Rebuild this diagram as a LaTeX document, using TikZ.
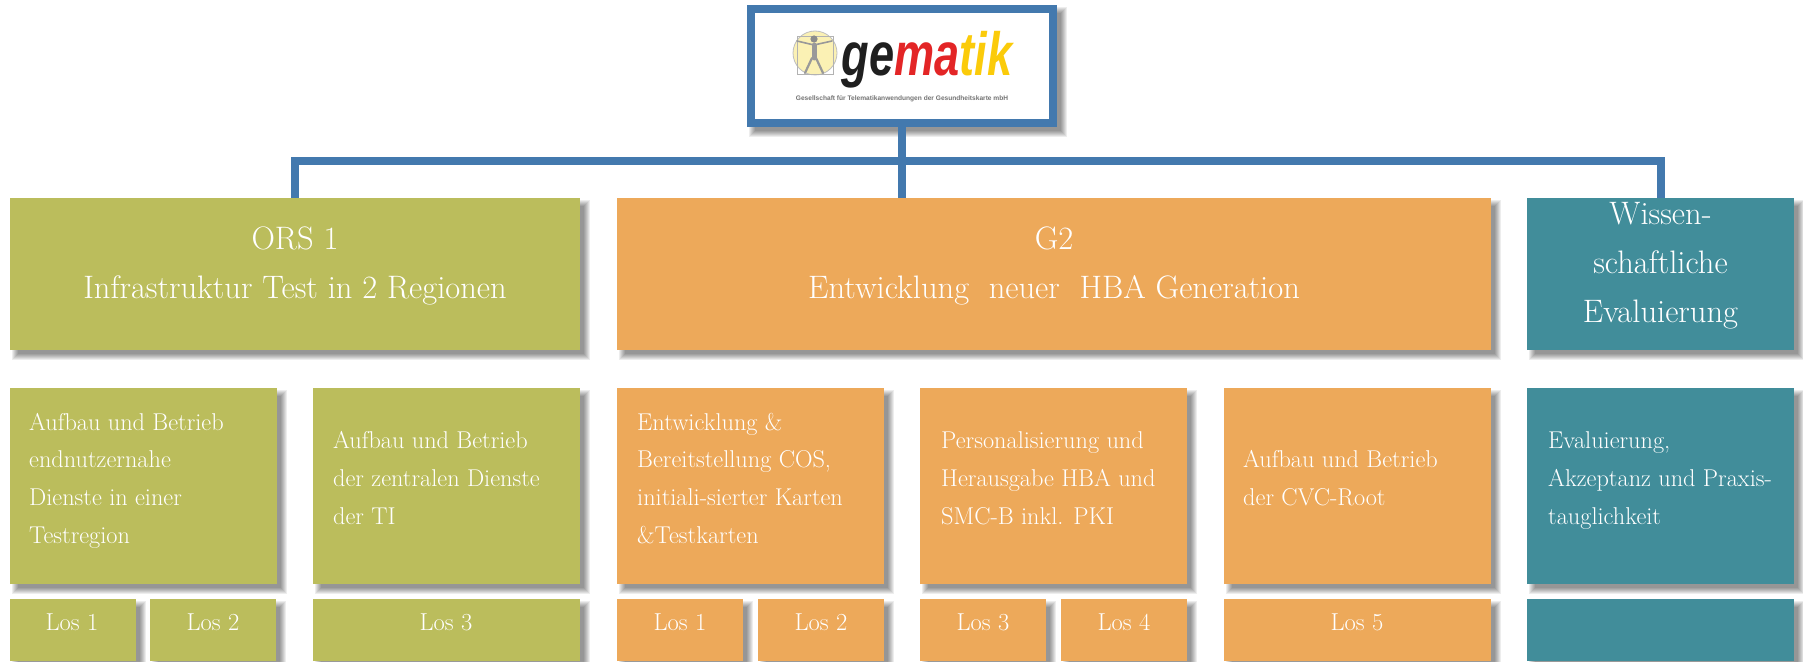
\documentclass[tikz,border=0pt]{standalone}
\usepackage{fontspec}
\usepackage{graphicx}
\newfontfamily\logofont{Liberation Sans}
\definecolor{olivebox}{HTML}{BBBD5C}
\definecolor{orangebox}{HTML}{EDA95A}
\definecolor{tealbox}{HTML}{418D9A}
\definecolor{bluebar}{HTML}{4379AE}
\definecolor{logored}{HTML}{E32526}
\definecolor{logoyellow}{HTML}{FBCB0A}
\definecolor{logopale}{HTML}{FBF1B4}
\newcommand{\st}{\rule[-6pt]{0pt}{18pt}}
\tikzset{
  colorbox/.style={rectangle,inner sep=0pt,outer sep=0pt,draw=none},
  bodytext/.style={text=white,inner sep=0pt,anchor=west,align=left,font=\fontsize{24.3}{37.7}\selectfont},
  lostext/.style={text=white,inner sep=0pt,anchor=base,font=\fontsize{24.5}{27}\selectfont},
  headtext/.style={text=white,inner sep=0pt,align=center,font=\fontsize{32.5}{49}\selectfont},
  connector/.style={draw=bluebar,line width=8pt,line join=miter},
}
% x1, y1, x2, y2
\newcommand{\softshadow}[4]{%
  \foreach \s in {0,...,6}{%
    \fill[black,opacity=.07] (#1+2+\s,#2+2+\s) rectangle (#3+10-\s,#4+10-\s);}%
}
% name, x1, y1, x2, y2, colour
\newcommand{\mybox}[6]{%
  \pgfmathsetmacro{\bw}{#4-#2}\pgfmathsetmacro{\bh}{#5-#3}%
  \pgfmathsetmacro{\bcx}{(#2+#4)/2}\pgfmathsetmacro{\bcy}{(#3+#5)/2}%
  \softshadow{#2}{#3}{#4}{#5}%
  \node[colorbox,fill=#6,minimum width=\bw pt,minimum height=\bh pt] (#1) at (\bcx,\bcy) {};%
}
\begin{document}
\begin{tikzpicture}[x=1pt,y=-1pt]
\useasboundingbox (0,0) rectangle (1803,661);
\fill[white] (0,0) rectangle (1803,661);

% logo box
\softshadow{747}{5}{1057}{127}
\node[rectangle,draw=bluebar,fill=white,line width=8pt,inner sep=0pt,outer sep=0pt,
      minimum width=302pt,minimum height=114pt] (logo) at (902,66) {};

% logo mark
\fill[logopale,draw=black!25,line width=.8pt] (815,53) circle (22);
\draw[black!30,line width=.8pt] (797,36) rectangle (833,74);
\fill[black!45] (814,39) circle (3.6);
\draw[black!40,line width=1.6pt,line cap=round] (797,41) -- (814,45) -- (832,41);
\draw[black!40,line width=5pt,line cap=round] (814,45) -- (814,58);
\draw[black!40,line width=2.2pt,line cap=round] (812,58) -- (805,73) (816,58) -- (823,73);

\node[inner sep=0pt,anchor=base] (logoword) at (927,75)
  {\scalebox{.74}[1]{\logofont\bfseries\itshape\fontsize{61}{61}\selectfont
   \textcolor{black!88}{ge}\textcolor{logored}{ma}\textcolor{logoyellow}{tik}}};
\node[inner sep=0pt,anchor=center,text=black!55] (logosub) at (902,99)
  {\logofont\bfseries\fontsize{6.6}{8}\selectfont Gesellschaft für Telematikanwendungen der Gesundheitskarte mbH};

% header boxes
\mybox{ors}{10}{198}{580}{350}{olivebox}
\mybox{gzwei}{617}{198}{1491}{350}{orangebox}
\mybox{wiss}{1527}{198}{1794}{350}{tealbox}

% connectors
\coordinate (bus) at (902,161);
\draw[connector] (logo.south) -- (logo.south |- gzwei.north);
\draw[connector] (ors.north) |- (bus) -| (wiss.north);

\node[headtext] (orst) at (295,266) {\st ORS 1\\ Infrastruktur Test in 2 Regionen\st};
\node[headtext] (gzweit) at (1054,266) {\st G2\\ Entwicklung\ \ neuer\ \ HBA Generation\st};
\node[headtext] (wisst) at (1660.5,266) {\st Wissen-\\ schaftliche\\ Evaluierung\st};

% detail boxes
\mybox{da}{10}{388}{277}{584}{olivebox}
\mybox{db}{313}{388}{580}{584}{olivebox}
\mybox{dc}{617}{388}{884}{584}{orangebox}
\mybox{dd}{920}{388}{1187}{584}{orangebox}
\mybox{de}{1224}{388}{1491}{584}{orangebox}
\mybox{df}{1527}{388}{1794}{584}{tealbox}

\node[bodytext] (dat) at (29,481) {\st Aufbau und Betrieb\\ endnutzernahe\\ Dienste in einer\\ Testregion\st};
\node[bodytext] (dbt) at (333,481) {\st Aufbau und Betrieb\\ der zentralen Dienste\\ der TI\st};
\node[bodytext] (dct) at (637,481) {\st Entwicklung \&\\ Bereitstellung COS,\\ initiali-sierter Karten\\ \&Testkarten\st};
\node[bodytext] (ddt) at (941,481) {\st Personalisierung und\\ Herausgabe HBA und\\ SMC-B inkl. PKI\st};
\node[bodytext] (det) at (1243,481) {\st Aufbau und Betrieb\\ der CVC-Root\st};
\node[bodytext] (dft) at (1548,481) {\st Evaluierung,\\ Akzeptanz und Praxis-\\ tauglichkeit\st};

% Los boxes
\mybox{la}{10}{599}{136}{661}{olivebox}
\mybox{lb}{150}{599}{276}{661}{olivebox}
\mybox{lc}{313}{599}{580}{661}{olivebox}
\mybox{ld}{617}{599}{743}{661}{orangebox}
\mybox{le}{758}{599}{884}{661}{orangebox}
\mybox{lf}{920}{599}{1046}{661}{orangebox}
\mybox{lg}{1061}{599}{1187}{661}{orangebox}
\mybox{lh}{1224}{599}{1491}{661}{orangebox}
\mybox{li}{1527}{599}{1794}{661}{tealbox}

\node[lostext] (lat) at (72,630) {Los 1};
\node[lostext] (lbt) at (213,630) {Los 2};
\node[lostext] (lct) at (446,630) {Los 3};
\node[lostext] (ldt) at (680,630) {Los 1};
\node[lostext] (let) at (821,630) {Los 2};
\node[lostext] (lft) at (983,630) {Los 3};
\node[lostext] (lgt) at (1124,630) {Los 4};
\node[lostext] (lht) at (1357,630) {Los 5};
\end{tikzpicture}
\end{document}
